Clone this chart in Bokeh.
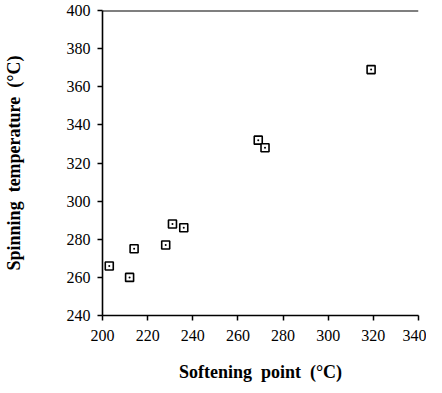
from bokeh.plotting import figure
from bokeh.models import Range1d, FixedTicker, Span
from bokeh.embed import file_html
from bokeh.resources import INLINE

softening = [203, 212, 214, 228, 231, 236, 269, 272, 319]
spinning = [266, 260, 275, 277, 288, 286, 332, 328, 369]
x_ticks = [200, 220, 240, 260, 280, 300, 320, 340]
y_ticks = [240, 260, 280, 300, 320, 340, 360, 380, 400]

p = figure(width=426, height=384, output_backend="svg", toolbar_location=None,
           x_range=Range1d(200, 340), y_range=Range1d(240, 400),
           min_border_left=89, min_border_right=8, min_border_top=10, min_border_bottom=64)
p.outline_line_color = None
p.grid.visible = False
p.background_fill_color = "white"
p.border_fill_color = "white"

p.scatter(softening, spinning, marker="square_dot", size=8, line_color="black",
          line_width=1.6, fill_color="white")

p.add_layout(Span(location=400, dimension="width", line_color="black", line_width=2.2))

for ax, ticks in ((p.xaxis, x_ticks), (p.yaxis, y_ticks)):
    ax.ticker = FixedTicker(ticks=ticks)
    ax.axis_line_color = "black"
    ax.axis_line_width = 1.6
    ax.major_tick_line_color = "black"
    ax.major_tick_line_width = 1.5
    ax.major_tick_in = 0
    ax.major_tick_out = 5
    ax.minor_tick_line_color = None
    ax.major_label_text_font = "Liberation Serif"
    ax.major_label_text_font_size = "16px"
    ax.major_label_text_color = "black"
    ax.axis_label_text_font = "Liberation Serif"
    ax.axis_label_text_font_style = "bold"
    ax.axis_label_text_font_size = "18px"
    ax.axis_label_text_color = "black"

p.xaxis.axis_label = "Softening\u00a0\u00a0point\u00a0\u00a0(\u00b0C)"
p.yaxis.axis_label = "Spinning\u00a0\u00a0temperature\u00a0\u00a0(\u00b0C)"
p.xaxis.major_label_standoff = 9
p.xaxis.axis_label_standoff = 18
p.yaxis.major_label_standoff = 7
p.yaxis.axis_label_standoff = 40

open("out.html", "w").write(file_html(p, INLINE))
